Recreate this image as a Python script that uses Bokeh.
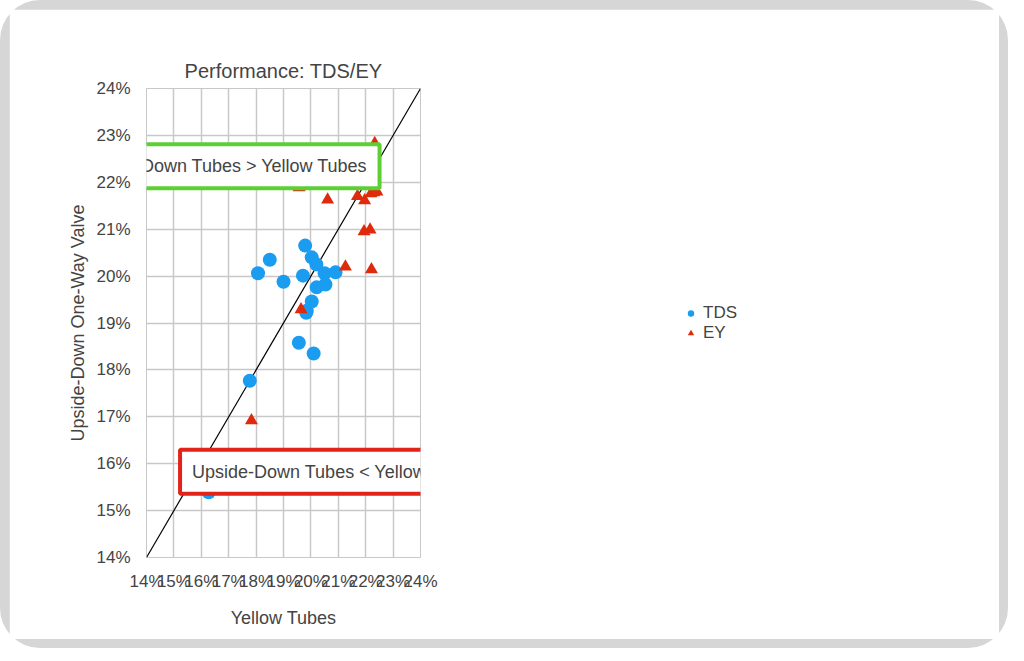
from bokeh.plotting import figure
from bokeh.models import Label, Legend, LegendItem, Range1d
from bokeh.layouts import column
from bokeh.embed import file_html
from bokeh.resources import INLINE

tds_x = [16.27, 17.77, 18.07, 18.50, 19.00, 19.56, 19.71, 19.79, 19.83, 19.85, 20.03, 20.03, 20.10, 20.20, 20.21, 20.50, 20.53, 20.90]
tds_y = [15.39, 17.77, 20.06, 20.35, 19.88, 18.58, 20.01, 20.65, 19.22, 19.26, 20.40, 19.46, 18.35, 20.25, 19.76, 20.06, 19.82, 20.08]
ey_x = [17.83, 19.57, 19.64, 20.61, 20.66, 21.26, 21.49, 21.70, 21.94, 21.94, 21.96, 22.16, 22.19, 22.21, 22.29, 22.30, 22.33, 22.41]
ey_y = [16.92, 21.89, 19.29, 21.63, 22.64, 20.20, 22.27, 21.70, 21.95, 20.95, 21.61, 20.99, 21.76, 20.14, 21.78, 21.97, 22.83, 21.80]
diag = [14, 24]
ticks = list(range(14, 25))
FONT = "Liberation Sans"

p = figure(width=990, height=630, output_backend="svg", toolbar_location=None,
           x_range=Range1d(14, 24), y_range=Range1d(14, 24),
           min_border_left=137, min_border_right=153, min_border_top=79, min_border_bottom=82)
p.title.text = "Performance: TDS/EY"
p.title.align = "center"
p.title.text_font = FONT
p.title.text_font_size = "20px"
p.title.text_font_style = "normal"
p.title.offset = 120
p.title.standoff = 14
p.border_fill_color = "white"
p.outline_line_color = "#c8c8c8"
for ax in (p.xaxis, p.yaxis):
    ax.ticker = ticks
    ax.major_label_overrides = {t: f"{t}%" for t in ticks}
    ax.major_label_text_font = FONT
    ax.major_label_text_font_size = "17px"
    ax.axis_label_text_font = FONT
    ax.axis_label_text_font_size = "18px"
    ax.axis_label_text_font_style = "normal"
    ax.axis_line_color = None
    ax.major_tick_line_color = None
    ax.minor_tick_line_color = None
p.xaxis.axis_label = "Yellow Tubes"
p.yaxis.axis_label = "Upside-Down One-Way Valve"
p.xaxis.major_label_standoff = 8
p.xaxis.axis_label_standoff = 14
p.yaxis.major_label_standoff = 10
p.grid.grid_line_color = "#c8c8c8"
p.grid.grid_line_width = 1.5

p.line(diag, diag, line_color="black", line_width=1.2)
r1 = p.scatter(tds_x, tds_y, marker="circle", size=14, fill_color="#1a9cf0", line_color=None)
r2 = p.scatter(ey_x, ey_y, marker="triangle", size=13, fill_color="#e02a0c", line_color=None)

legend = Legend(items=[LegendItem(label="TDS", renderers=[r1]), LegendItem(label="EY", renderers=[r2])],
                location="center", border_line_color=None, background_fill_alpha=0,
                label_text_font=FONT, label_text_font_size="17px", glyph_width=16,
                spacing=0, padding=2, margin=20)
p.add_layout(legend, "right")

p.add_layout(Label(x=16.8, y=22.34, text="Upside-Down Tubes > Yellow Tubes", text_align="center",
                   text_baseline="middle", text_font=FONT, text_font_size="18px",
                   border_line_color="#5ccf33", border_line_width=4, background_fill_color="white",
                   padding=12))
p.add_layout(Label(x=20.93, y=15.83, text="Upside-Down Tubes < Yellow Tubes", text_align="center",
                   text_baseline="middle", text_font=FONT, text_font_size="18px",
                   border_line_color="#e2231a", border_line_width=4, background_fill_color="white",
                   padding=12))

layout = column(p, styles={"background": "#d6d6d6", "border-radius": "40px", "padding": "9px"})
open("out.html", "w").write(file_html(layout, INLINE))
